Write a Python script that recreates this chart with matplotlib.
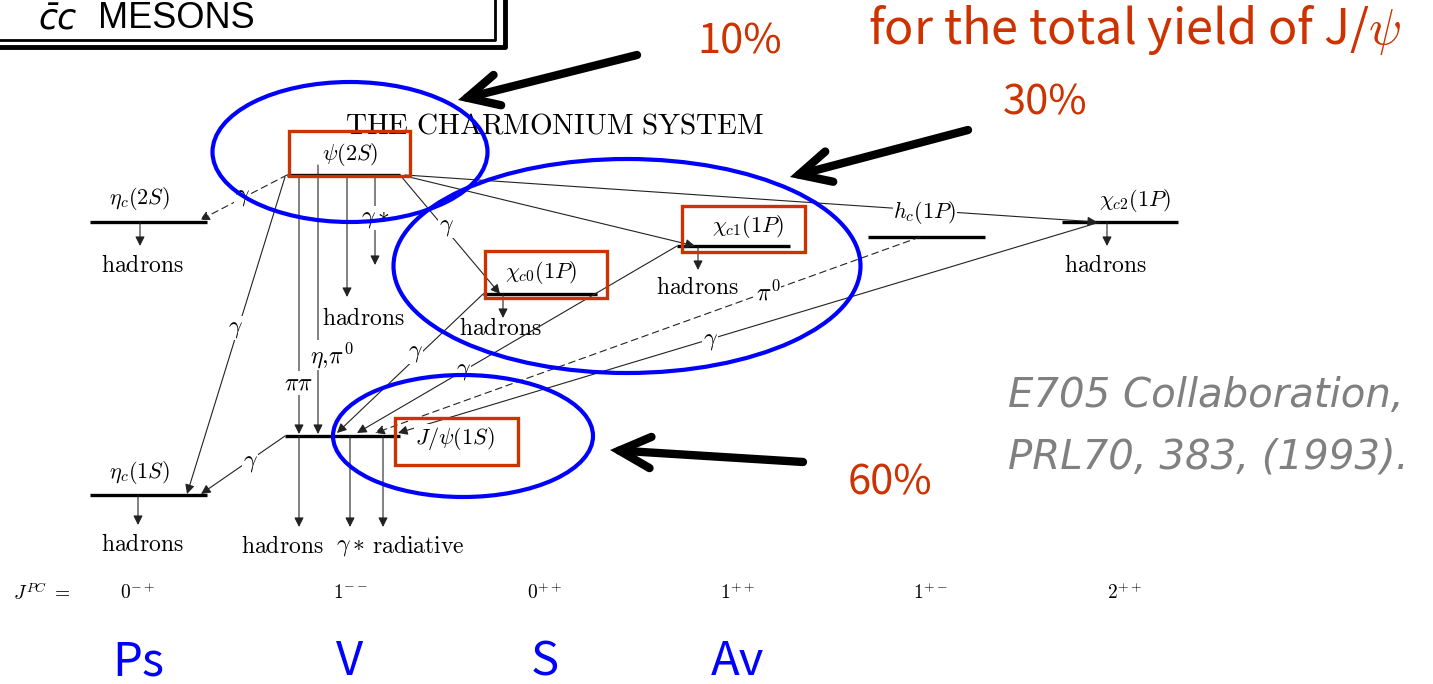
import numpy as np
import matplotlib.pyplot as plt
from matplotlib.patches import Ellipse, Rectangle

plt.rcParams['mathtext.fontset'] = 'cm'

# ---- levels of the charmonium system (pixel frame of the picture) ----
level_names = [r'$\eta_c(2S)$', r'$\psi(2S)$', r'$\chi_{c0}(1P)$', r'$\chi_{c1}(1P)$',
               r'$h_c(1P)$', r'$\chi_{c2}(1P)$', r'$J/\psi(1S)$', r'$\eta_c(1S)$']
level_x0 = [90, 287, 483, 677, 868, 1062, 285, 90]
level_x1 = [207, 400, 597, 790, 985, 1178, 400, 207]
level_y = [222, 175, 294, 246, 237, 222, 436, 495]
label_x = [140, 350, 541, 748, 925, 1135, 455, 140]
label_y = [198, 155, 272, 226, 213, 200, 438, 472]

# straight decays down to final states
decay_x = [140, 347, 503, 698, 1107, 138, 299, 350, 383]
decay_y0 = [222, 175, 294, 246, 222, 495, 436, 436, 436]
decay_y1 = [246, 297, 318, 270, 246, 525, 527, 527, 527]
decay_lab = ['hadrons'] * 7 + [r'\gamma*', 'radiative']
decay_lx = [142, 363, 500, 697, 1105, 142, 282, 350, 418]
decay_ly = [265, 318, 328, 287, 265, 544, 546, 546, 546]

# transitions between levels: start, end, label, label position, dashed
tr_x0 = [287, 285, 299, 318, 375, 400, 405, 405, 483, 677, 920, 1100, 285]
tr_y0 = [175, 177, 175, 165, 175, 175, 176, 175, 294, 246, 237, 222, 436]
tr_x1 = [200, 187, 299, 318, 375, 500, 695, 1097, 337, 357, 375, 398, 201]
tr_y1 = [220, 494, 434, 434, 265, 294, 246, 222, 433, 433, 433, 433, 494]
tr_lab = [r'\gamma', r'\gamma', r'\pi\pi', r'\eta,\!\pi^0', r'\gamma*', r'\gamma', '', '',
          r'\gamma', r'\gamma', r'\pi^0', r'\gamma', r'\gamma']
tr_lx = [242, 235, 298, 332, 375, 446, 0, 0, 415, 463, 768, 710, 250]
tr_ly = [196, 328, 383, 355, 218, 226, 0, 0, 352, 370, 293, 340, 462]
tr_dash = [True, False, False, False, False, False, False, False, False, False, True, False, False]

jpc_x = [138, 350, 545, 738, 930, 1125]
jpc_lab = [r'$0^{-+}$', r'$1^{--}$', r'$0^{++}$', r'$1^{++}$', r'$1^{+-}$', r'$2^{++}$']
spin_lab = ['Ps', 'V', 'S', 'Av']

# annotations
ell_cx = [350, 627, 463]
ell_cy = [152, 266, 436]
ell_w = [275, 467, 260]
ell_h = [140, 214, 122]
box_x0 = [289, 485, 682, 395]
box_y0 = [131, 251, 206, 418]
box_x1 = [410, 607, 805, 518]
box_y1 = [176, 298, 252, 465]
arr_from = [(637, 55), (968, 130), (803, 462)]
arr_to = [(458, 100), (790, 177), (610, 450)]
pct_lab = ['10%', '30%', '60%']
pct_x = [740, 1045, 890]
pct_y = [42, 103, 483]

red = '#CC3300'

fig = plt.figure(figsize=(14.33, 6.84), dpi=100)
ax = fig.add_axes([0, 0, 1, 1])
ax.set_xlim(0, 1433)
ax.set_ylim(684, 0)
ax.axis('off')

serif = dict(fontsize=17, ha='center', va='center')

# levels
for name, a, b, y, lx, ly in zip(level_names, level_x0, level_x1, level_y, label_x, label_y):
    ax.plot([a, b], [y, y], color='black', lw=2.4, solid_capstyle='butt', zorder=3)
    ax.text(lx, ly, name, zorder=4, fontsize=16, ha='center', va='center',
            bbox=dict(fc='white', ec='none', pad=0.5))

thin = dict(arrowstyle='-|>', lw=0.8, color='#222222', mutation_scale=14,
            shrinkA=0, shrinkB=0)

for x, y0, y1, lab, lx, ly in zip(decay_x, decay_y0, decay_y1, decay_lab, decay_lx, decay_ly):
    ax.annotate('', xy=(x, y1), xytext=(x, y0), arrowprops=thin)
    t = r'$\mathrm{%s}$' % lab if lab.isalpha() else r'$%s$' % lab
    ax.text(lx, ly, t, **serif)

for x0, y0, x1, y1, lab, lx, ly, d in zip(tr_x0, tr_y0, tr_x1, tr_y1, tr_lab, tr_lx, tr_ly, tr_dash):
    props = dict(thin)
    if d:
        props['linestyle'] = (0, (6, 4))
    ax.annotate('', xy=(x1, y1), xytext=(x0, y0), arrowprops=props)
    if lab:
        ax.text(lx, ly, r'$%s$' % lab, zorder=4,
                bbox=dict(fc='white', ec='none', pad=0.3), **serif)

ax.text(555, 126, r'$\mathrm{THE\ CHARMONIUM\ SYSTEM}$', fontsize=21,
        ha='center', va='center')

# J^PC row
ax.text(42, 593, r'$J^{PC}\ =$', fontsize=14, ha='center', va='center')
for x, lab in zip(jpc_x, jpc_lab):
    ax.text(x, 593, lab, fontsize=14, ha='center', va='center')
for x, lab in zip(jpc_x, spin_lab):
    ax.text(x, 662, lab, fontsize=34, color='#0000FF', ha='center', va='center',
            family=['Noto Sans CJK JP', 'DejaVu Sans'])

# highlight ellipses and boxes
for cx, cy, w, h in zip(ell_cx, ell_cy, ell_w, ell_h):
    ax.add_patch(Ellipse((cx, cy), w, h, fill=False, ec='#0000FF', lw=3, zorder=5))
for a, b, c, d in zip(box_x0, box_y0, box_x1, box_y1):
    ax.add_patch(Rectangle((a, b), c - a, d - b, fill=False, ec=red, lw=2.4, zorder=5))

for s, e in zip(arr_from, arr_to):
    ax.annotate('', xy=e, xytext=s,
                arrowprops=dict(arrowstyle='->, head_length=0.9, head_width=0.45',
                                lw=6, color='black', mutation_scale=25,
                                capstyle='round', joinstyle='miter',
                                shrinkA=0, shrinkB=0))

for lab, x, y in zip(pct_lab, pct_x, pct_y):
    ax.text(x, y, lab, fontsize=30, color=red, ha='center', va='center',
            family=['Noto Sans CJK JP', 'DejaVu Sans'])
ax.text(868, 30, r'for the total yield of J/$\psi$', fontsize=35, color=red,
        ha='left', va='center', family=['Noto Sans CJK JP', 'DejaVu Sans'])

ax.text(1008, 395, 'E705 Collaboration,', fontsize=29, color='#808080', style='italic',
        ha='left', va='center', family=['DejaVu Sans'])
ax.text(1008, 457, 'PRL70, 383, (1993).', fontsize=29, color='#808080', style='italic',
        ha='left', va='center', family=['DejaVu Sans'])

# title box top left
ax.plot([-5, 495, 495], [40, 40, -5], color='black', lw=2)
ax.plot([-5, 505, 505], [47, 47, -5], color='black', lw=3.5)
ax.text(38, 19, 'c\u0304c', fontsize=25, ha='left', va='center', style='italic',
        family=['DejaVu Sans'])
ax.text(98, 19, 'MESONS', fontsize=26, ha='left', va='center',
        family=['Liberation Sans', 'DejaVu Sans'])

fig.savefig('out.png', dpi=100)
